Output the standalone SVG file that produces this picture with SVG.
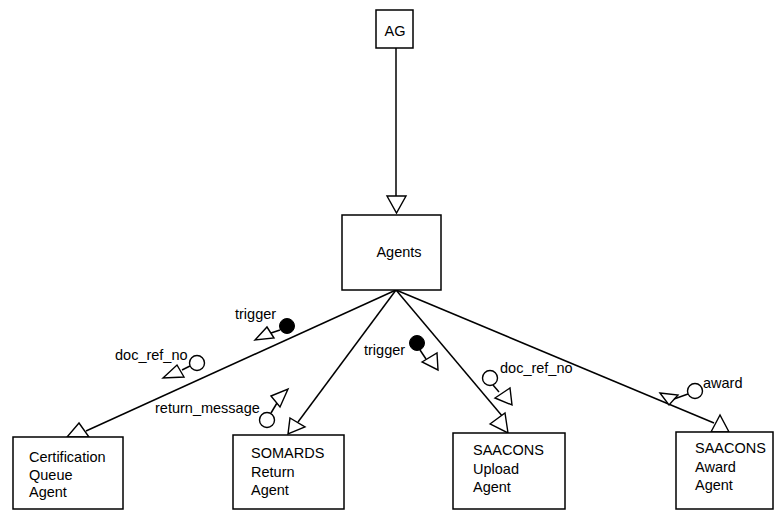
<svg xmlns="http://www.w3.org/2000/svg" width="775" height="510" viewBox="0 0 775 510">
<style>
  .box{fill:#fff;stroke:#000;stroke-width:1.5}
  .ln{fill:none;stroke:#000;stroke-width:1.5}
  .tri{fill:#fff;stroke:#000;stroke-width:1.4;stroke-linejoin:miter}
  .oc{fill:#fff;stroke:#000;stroke-width:1.4}
  .fc{fill:#000;stroke:#000;stroke-width:1}
  text{font-family:"Liberation Sans",Arial,sans-serif;font-size:14.5px;fill:#000}
</style>
<rect width="775" height="510" fill="#fff"/>
<g id="connectors">
  <line class="ln" x1="396" y1="48" x2="396" y2="197"/>
  <polygon class="tri" points="387,196 406,196 396.5,213"/>
  <line class="ln" x1="396" y1="290" x2="86" y2="431"/>
  <polygon class="tri" points="79,423 67,437 89,437"/>
  <line class="ln" x1="396" y1="290" x2="298" y2="422"/>
  <polygon class="tri" points="290,418 305,427 288,434"/>
  <line class="ln" x1="396" y1="290" x2="503" y2="417"/>
  <polygon class="tri" points="490,424 505,413 508,433"/>
  <line class="ln" x1="396" y1="290" x2="714" y2="423"/>
  <polygon class="tri" points="720,415 711,432 729,432"/>
</g>
<g id="param-trigger-1">
  <polygon class="tri" points="255,340 267,327 274,338"/>
  <line class="ln" x1="271" y1="333" x2="280" y2="330"/>
  <circle class="fc" cx="287" cy="326" r="7.5"/>
  <text x="235" y="319">trigger</text>
</g>
<g id="param-docrefno-1">
  <polygon class="tri" points="163,378 177,365 184,377"/>
  <line class="ln" x1="182" y1="370" x2="190" y2="366"/>
  <circle class="oc" cx="197" cy="363" r="7.5"/>
  <text x="115" y="360">doc_ref_no</text>
</g>
<g id="param-trigger-2">
  <circle class="fc" cx="417" cy="343" r="7.5"/>
  <line class="ln" x1="420" y1="350" x2="426" y2="359"/>
  <polygon class="tri" points="422,362 437,353 438,370"/>
  <text x="364" y="355">trigger</text>
</g>
<g id="param-return-message">
  <circle class="oc" cx="267" cy="420" r="7.5"/>
  <line class="ln" x1="271" y1="413" x2="277" y2="403"/>
  <polygon class="tri" points="271,396 288,389 280,407"/>
  <text x="155" y="413">return_message</text>
</g>
<g id="param-docrefno-2">
  <circle class="oc" cx="490" cy="378" r="7.5"/>
  <line class="ln" x1="493" y1="385" x2="499" y2="392"/>
  <polygon class="tri" points="495,398 510,388 512,405"/>
  <text x="500" y="373">doc_ref_no</text>
</g>
<g id="param-award">
  <polygon class="tri" points="660,393 678,395 669,405"/>
  <line class="ln" x1="674" y1="399" x2="688" y2="394"/>
  <circle class="oc" cx="695" cy="391" r="7.5"/>
  <text x="703" y="388">award</text>
</g>
<g id="node-AG">
  <rect class="box" x="376" y="10" width="37" height="38"/>
  <text x="395" y="36" text-anchor="middle">AG</text>
</g>
<g id="node-Agents">
  <rect class="box" x="342" y="215" width="99" height="75"/>
  <text x="399" y="257" text-anchor="middle">Agents</text>
</g>
<g id="node-Certification">
  <rect class="box" x="13" y="437" width="110" height="72"/>
  <text x="29" y="462">Certification</text>
  <text x="29" y="480">Queue</text>
  <text x="29" y="497">Agent</text>
</g>
<g id="node-SOMARDS">
  <rect class="box" x="233" y="435" width="111" height="74"/>
  <text x="251" y="458">SOMARDS</text>
  <text x="251" y="477">Return</text>
  <text x="251" y="495">Agent</text>
</g>
<g id="node-SAACONS-Upload">
  <rect class="box" x="453" y="433" width="112" height="76"/>
  <text x="473" y="455">SAACONS</text>
  <text x="473" y="474">Upload</text>
  <text x="473" y="492">Agent</text>
</g>
<g id="node-SAACONS-Award">
  <rect class="box" x="676" y="432" width="97" height="77"/>
  <text x="695" y="453">SAACONS</text>
  <text x="695" y="472">Award</text>
  <text x="695" y="490">Agent</text>
</g>
</svg>
